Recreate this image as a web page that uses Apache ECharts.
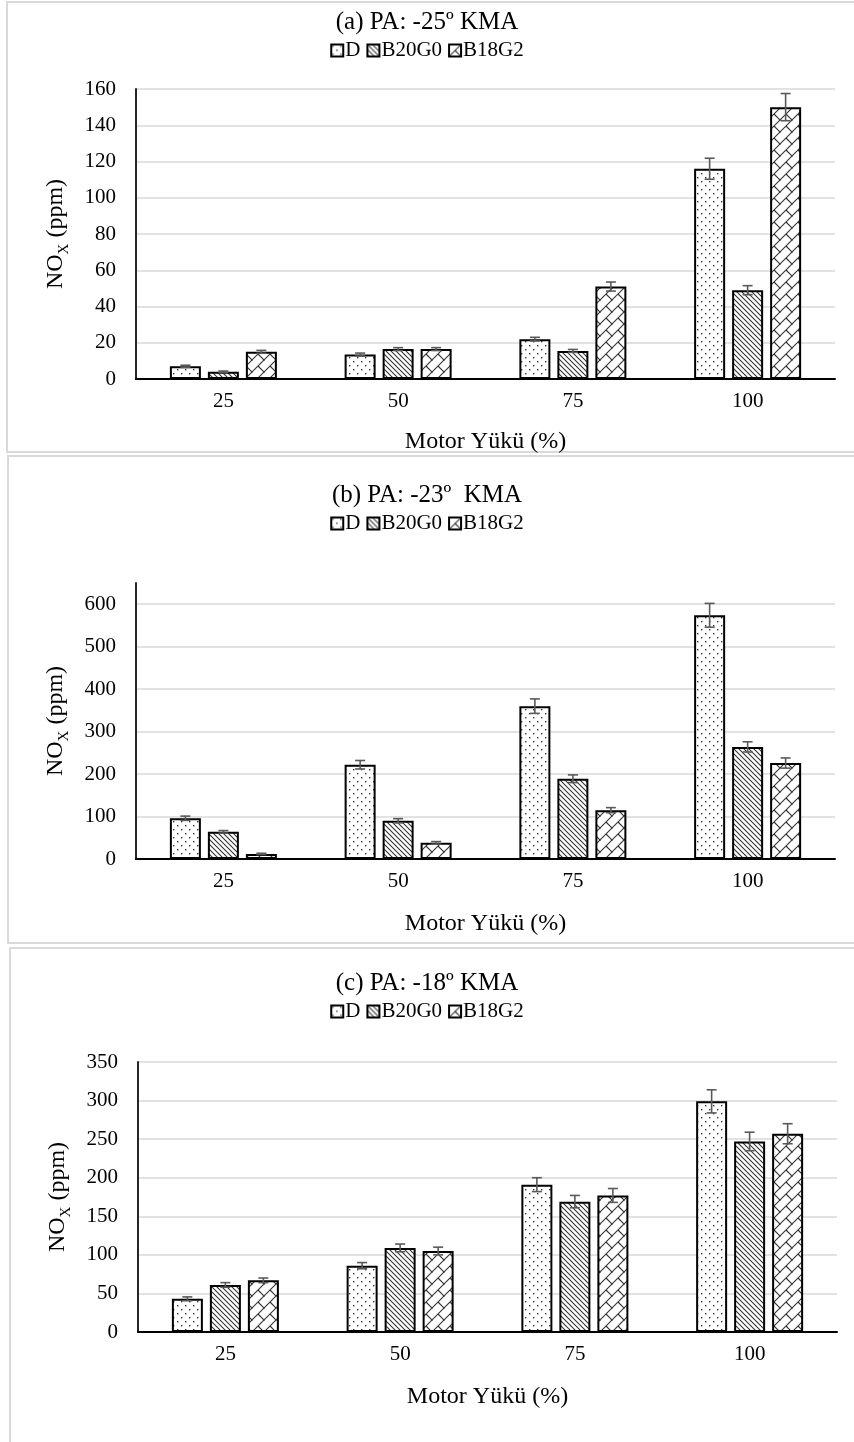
<!DOCTYPE html>
<html>
<head>
<meta charset="utf-8">
<script src="https://cdn.jsdelivr.net/npm/echarts@6/dist/echarts.min.js"></script>
<style>
  html, body { margin: 0; padding: 0; background: #fff; overflow: hidden; }
  #wrap { position: relative; width: 854px; height: 1442px; }
  .frame { position: absolute; border: 2px solid #d9d9d9; box-sizing: border-box; }
  #chart { position: absolute; left: 0; top: 0; width: 854px; height: 1442px; }
</style>
</head>
<body>
<div id="wrap">
  <div class="frame" style="left:6px;top:1px;width:860px;height:452px"></div>
  <div class="frame" style="left:7px;top:455px;width:860px;height:489px"></div>
  <div class="frame" style="left:9px;top:947px;width:860px;height:520px"></div>
  <div id="chart"></div>
</div>
<script>
// Engine load (%) categories and fuel blends
const loads = ['25', '50', '75', '100'];
const fuels = ['D', 'B20G0', 'B18G2'];
const panelTitles = ['(a) PA: -25º KMA', '(b) PA: -23º  KMA', '(c) PA: -18º KMA'];
const xAxisTitle = 'Motor Yükü (%)';
const yAxisTitle = 'NO{sub|X} (ppm)';

// Y-axis scales per panel
const yMax = [160, 650, 350];
const yInterval = [20, 100, 50];

// (a) injection advance -25º
const noxA_D = [7, 13.5, 22, 116];
const noxA_B20G0 = [4, 16.5, 15.5, 49];
const noxA_B18G2 = [15, 16.5, 51, 150];
const errA_D = [0.6, 0.8, 1.0, 5.8];
const errA_B20G0 = [0.4, 0.8, 0.8, 2.5];
const errA_B18G2 = [0.8, 0.8, 2.5, 7.5];

// (b) injection advance -23º
const noxB_D = [96, 222, 360, 574];
const noxB_B20G0 = [64, 90, 189, 264];
const noxB_B18G2 = [12, 38, 115, 226];
const errB_D = [5, 10, 17, 28];
const errB_B20G0 = [3, 5, 9, 12];
const errB_B18G2 = [1.5, 3, 6, 12];

// (c) injection advance -18º
const noxC_D = [43, 86, 191, 299];
const noxC_B20G0 = [61, 109, 169, 247];
const noxC_B18G2 = [67, 105, 177, 257];
const errC_D = [2.5, 4, 9, 15];
const errC_B20G0 = [3, 5, 8, 12];
const errC_B18G2 = [3, 5, 9, 13];

const values = [
  [noxA_D, noxA_B20G0, noxA_B18G2],
  [noxB_D, noxB_B20G0, noxB_B18G2],
  [noxC_D, noxC_B20G0, noxC_B18G2]
];
const errors = [
  [errA_D, errA_B20G0, errA_B18G2],
  [errB_D, errB_B20G0, errB_B18G2],
  [errC_D, errC_B20G0, errC_B18G2]
];

// Layout of the three stacked panels
const layout = [
  { titleTop: 5,   legendTop: 35,   gridTop: 89,   gridHeight: 290, left: 136, nameGap: 51 },
  { titleTop: 478, legendTop: 508,  gridTop: 583,  gridHeight: 276, left: 136, nameGap: 53 },
  { titleTop: 966, legendTop: 996,  gridTop: 1062, gridHeight: 270, left: 138, nameGap: 53 }
];
const GRID_W = 699;
const BAR_W = 31;
const BAR_GAP = 7;
const FONT = '"Liberation Serif", "Times New Roman", serif';

// Hatch fills for the three blends
function makePattern(kind) {
  const c = document.createElement('canvas');
  const ctx = c.getContext('2d');
  if (kind === 'dots') {
    c.width = c.height = 8;
    ctx.fillStyle = '#fff'; ctx.fillRect(0, 0, 8, 8);
    ctx.fillStyle = '#3a3a3a';
    ctx.fillRect(1, 1, 1.4, 1.4);
    ctx.fillRect(5, 5, 1.4, 1.4);
  } else if (kind === 'diag') {
    const s = 5;
    c.width = c.height = s;
    ctx.fillStyle = '#fff'; ctx.fillRect(0, 0, s, s);
    ctx.strokeStyle = '#333'; ctx.lineWidth = 1.1;
    for (const o of [-s, 0, s]) {
      ctx.beginPath(); ctx.moveTo(o - 1, -1); ctx.lineTo(o + s + 1, s + 1); ctx.stroke();
    }
  } else {
    const s = 12;
    c.width = c.height = s;
    ctx.fillStyle = '#fff'; ctx.fillRect(0, 0, s, s);
    ctx.strokeStyle = '#333'; ctx.lineWidth = 1.1;
    for (const o of [-s, 0, s]) {
      ctx.beginPath(); ctx.moveTo(o - 1, s + 1); ctx.lineTo(o + s + 1, -1); ctx.stroke();
    }
    ctx.beginPath(); ctx.moveTo(6, 6); ctx.lineTo(13, 13); ctx.stroke();
    ctx.beginPath(); ctx.moveTo(-1, -1); ctx.lineTo(0.5, 0.5); ctx.stroke();
  }
  return { image: c, repeat: 'repeat' };
}
const fills = [makePattern('dots'), makePattern('diag'), makePattern('brick')];

const option = {
  animation: false,
  title: [], legend: [], grid: [], xAxis: [], yAxis: [], series: []
};

layout.forEach((L, p) => {
  option.title.push({
    text: panelTitles[p], left: 'center', top: L.titleTop,
    textStyle: { fontFamily: FONT, fontSize: 25, fontWeight: 'normal', color: '#000' }
  });
  option.legend.push({
    data: fuels.map(f => f + '#' + p),
    formatter: n => n.split('#')[0],
    left: 'center', top: L.legendTop,
    icon: 'rect', itemWidth: 12, itemHeight: 12, itemGap: 6,
    textStyle: { fontFamily: FONT, fontSize: 21, color: '#000', padding: [0, 0, 0, -3] },
    selectedMode: false
  });
  option.grid.push({ left: L.left, top: L.gridTop, width: GRID_W, height: L.gridHeight });
  option.xAxis.push({
    type: 'category', gridIndex: p, data: loads,
    axisLine: { lineStyle: { color: '#000', width: 2 } },
    axisTick: { show: false },
    axisLabel: { fontFamily: FONT, fontSize: 21, color: '#000', margin: 12 },
    name: xAxisTitle, nameLocation: 'middle', nameGap: L.nameGap,
    nameTextStyle: { fontFamily: FONT, fontSize: 24, color: '#000' }
  });
  option.yAxis.push({
    type: 'value', gridIndex: p, min: 0, max: yMax[p], interval: yInterval[p],
    axisLine: { show: true, lineStyle: { color: '#262626', width: 2 } },
    axisTick: { show: false },
    axisLabel: { fontFamily: FONT, fontSize: 21, color: '#000', margin: 20, showMaxLabel: p !== 1 },
    splitLine: { show: true, showMaxLine: p !== 1, lineStyle: { color: '#d9d9d9', width: 1.5 } },
    name: yAxisTitle, nameLocation: 'middle', nameGap: 64, nameRotate: 90,
    nameTextStyle: {
      fontFamily: FONT, fontSize: 24, color: '#000',
      rich: { sub: { fontFamily: FONT, fontSize: 15, color: '#000', verticalAlign: 'bottom', lineHeight: 32 } }
    }
  });

  fuels.forEach((f, i) => {
    option.series.push({
      name: f + '#' + p, type: 'bar', xAxisIndex: p, yAxisIndex: p,
      data: values[p][i], barWidth: BAR_W, barGap: (BAR_GAP / BAR_W * 100) + '%',
      itemStyle: { color: fills[i], borderColor: '#000', borderWidth: 2 },
      z: 2
    });
  });
  fuels.forEach((f, i) => {
    const offset = (i - 1) * (BAR_W + BAR_GAP);
    option.series.push({
      type: 'custom', xAxisIndex: p, yAxisIndex: p, z: 4,
      data: values[p][i].map((v, k) => [k, v, errors[p][i][k]]),
      renderItem: (params, api) => {
        const k = api.value(0), v = api.value(1), e = api.value(2);
        const hi = api.coord([k, v + e]);
        const lo = api.coord([k, v - e]);
        const x = hi[0] + offset;
        const cap = 5;
        const st = { stroke: '#5a5a5a', lineWidth: 1.6 };
        return {
          type: 'group',
          children: [
            { type: 'line', shape: { x1: x, y1: hi[1], x2: x, y2: lo[1] }, style: st },
            { type: 'line', shape: { x1: x - cap, y1: hi[1], x2: x + cap, y2: hi[1] }, style: st },
            { type: 'line', shape: { x1: x - cap, y1: lo[1], x2: x + cap, y2: lo[1] }, style: st }
          ]
        };
      }
    });
  });
});

const chart = echarts.init(document.getElementById('chart'), null, { renderer: 'canvas' });
chart.setOption(option);
</script>
</body>
</html>
